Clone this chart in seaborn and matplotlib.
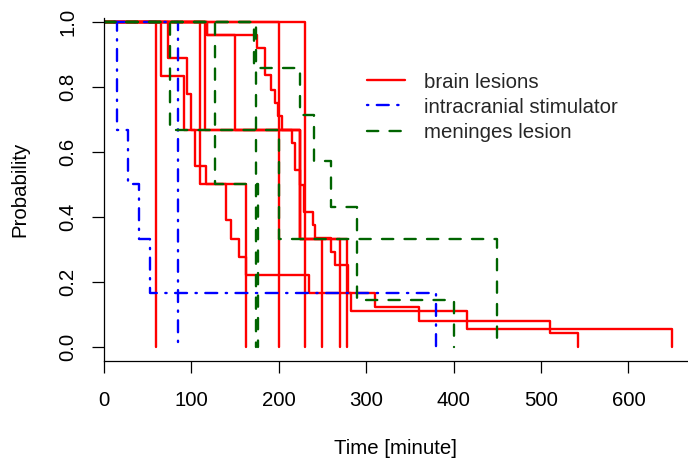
import matplotlib
matplotlib.use("Agg")
import matplotlib.pyplot as plt
from matplotlib.lines import Line2D
import pandas as pd
import seaborn as sns

# ---------------- data ----------------
group_labels = ["brain lesions", "intracranial stimulator", "meninges lesion"]
group_colors = ["#FF0000", "#0000FF", "#006400"]

# each curve starts at (0, 1); times of steps and survival after each step
brain_times = [
    [60],
    [73, 95, 100, 104, 117, 140, 145, 155, 162, 234, 283, 415, 650],
    [65, 92, 224, 250],
    [110, 163],
    [116, 224, 278],
    [118, 175, 184, 191, 196, 199, 204, 215, 219, 224, 229, 239, 241, 260, 264, 279, 310, 360, 510, 542],
    [118, 150, 224, 270],
    [200],
    [230],
]
brain_surv = [
    [0.0],
    [0.889, 0.778, 0.667, 0.556, 0.5, 0.389, 0.333, 0.278, 0.222, 0.167, 0.111, 0.056, 0.0],
    [0.833, 0.667, 0.333, 0.0],
    [0.5, 0.0],
    [0.667, 0.333, 0.0],
    [0.959, 0.92, 0.836, 0.79, 0.75, 0.71, 0.667, 0.627, 0.544, 0.498, 0.416, 0.375, 0.336, 0.293, 0.252, 0.167, 0.124, 0.081, 0.044, 0.0],
    [0.959, 0.667, 0.333, 0.0],
    [0.0],
    [0.0],
]

stim_times = [
    [15, 28, 40, 53, 380],
    [85],
]
stim_surv = [
    [0.667, 0.5, 0.333, 0.167, 0.0],
    [0.0],
]

meninges_times = [
    [75, 200, 450],
    [127, 176],
    [172, 224, 240, 260, 290, 400],
    [174],
]
meninges_surv = [
    [0.667, 0.333, 0.0],
    [0.5, 0.0],
    [0.857, 0.714, 0.571, 0.429, 0.143, 0.0],
    [0.0],
]

x_ticks = [0, 100, 200, 300, 400, 500, 600]
y_ticks = [0.0, 0.2, 0.4, 0.6, 0.8, 1.0]
y_tick_labels = ["0.0", "0.2", "0.4", "0.6", "0.8", "1.0"]


def build_frame(times_list, surv_list, group):
    rows = []
    for k, (ts, ss) in enumerate(zip(times_list, surv_list)):
        cid = f"{group}-{k}"
        rows.append((group, cid, 0.0, 1.0))
        for t, s in zip(ts, ss):
            rows.append((group, cid, float(t), float(s)))
    return pd.DataFrame(rows, columns=["group", "curve", "time", "surv"])


frames = [
    build_frame(brain_times, brain_surv, group_labels[0]),
    build_frame(stim_times, stim_surv, group_labels[1]),
    build_frame(meninges_times, meninges_surv, group_labels[2]),
]

# ---------------- style ----------------
sns.set_theme(style="ticks")
plt.rcParams["font.family"] = ["Liberation Sans", "DejaVu Sans"]
plt.rcParams["lines.scale_dashes"] = False

FS = 14.7
LW = 1.7
line_styles = [
    "-",
    (0, (0.95, 6.1, 8.6, 6.1)),
    (0, (8.1, 8.1)),
]

W, H = 688, 458
fig = plt.figure(figsize=(W / 100, H / 100), dpi=100)
ax = fig.add_axes([104 / W, 97 / H, 584 / W, 343 / H])

for df, col, ls in zip(frames, group_colors, line_styles):
    sns.lineplot(
        data=df, x="time", y="surv", units="curve", estimator=None,
        sort=False, ax=ax, legend=False, color=col, linestyle=ls,
        linewidth=LW, drawstyle="steps-post",
        dash_capstyle="round", solid_capstyle="round",
        solid_joinstyle="round", dash_joinstyle="round",
    )

ax.set_xlim(0, 668.2)
ax.set_ylim(-0.043, 1.0114)

for side in ["top", "right"]:
    ax.spines[side].set_visible(False)
for side in ["left", "bottom"]:
    ax.spines[side].set_color("black")
    ax.spines[side].set_linewidth(0.9)

ax.set_xticks(x_ticks)
ax.set_xticklabels([str(v) for v in x_ticks])
ax.set_yticks(y_ticks)
ax.set_yticklabels(y_tick_labels, rotation=90, va="center")
ax.tick_params(axis="both", direction="out", length=8.6, width=0.9,
               color="black", labelsize=FS, labelcolor="black",
               bottom=True, left=True)
ax.tick_params(axis="x", pad=13.2)
ax.tick_params(axis="y", pad=10.6)

ax.set_xlabel("Time [minute]", fontsize=FS, color="black")
ax.xaxis.label.set_va("baseline")
ax.xaxis.set_label_coords(0.5, (361 - 454) / 343)
ax.set_ylabel("Probability", fontsize=FS, color="black")
ax.yaxis.label.set_va("baseline")
ax.yaxis.set_label_coords((25 - 104) / 584, 0.5)

handles = [
    Line2D([0], [0], color=c, linestyle=ls, linewidth=LW,
           dash_capstyle="round", solid_capstyle="round")
    for c, ls in zip(group_colors, line_styles)
]
ax.legend(handles, group_labels, loc="upper left",
          bbox_to_anchor=(366.7 / W, 1 - 72.5 / H),
          bbox_transform=fig.transFigure, frameon=False,
          borderpad=0, borderaxespad=0, handlelength=1.87,
          handletextpad=0.93, labelspacing=0.3, fontsize=FS)

fig.savefig("out.png", dpi=100)
